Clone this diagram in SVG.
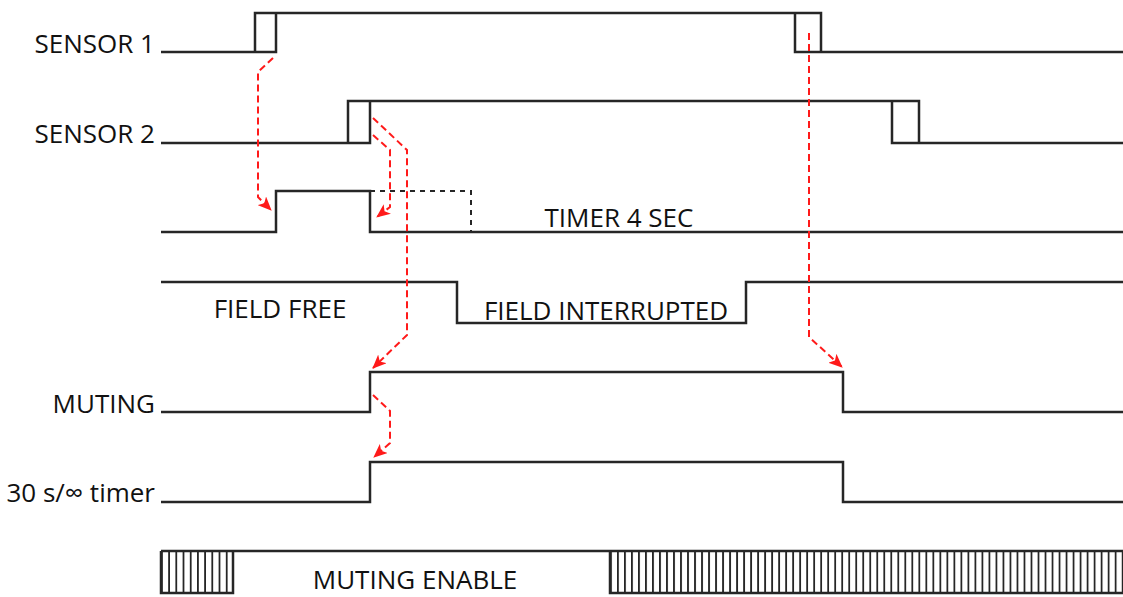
<svg xmlns="http://www.w3.org/2000/svg" width="1123" height="597" viewBox="0 0 1123 597">
<style>
.sig{fill:none;stroke:#262626;stroke-width:2.5;stroke-linejoin:miter}
.dash{fill:none;stroke:#262626;stroke-width:2;stroke-dasharray:5 5}
.red{fill:none;stroke:#ff1a1a;stroke-width:2;stroke-dasharray:7 4}
.lbl{font-family:"Open Sans","Noto Sans",sans-serif;font-size:26px;fill:#111}
.end{text-anchor:end}
.mid{text-anchor:middle}
</style>
<defs>
<marker id="ah" markerUnits="userSpaceOnUse" markerWidth="14" markerHeight="12" viewBox="0 0 14 12" refX="13" refY="6" orient="auto">
<path d="M0,0 L14,6 L0,12 L3.5,6 z" fill="#ff1a1a"/>
</marker>
<pattern id="hatchL" patternUnits="userSpaceOnUse" x="161" y="551" width="7.2" height="42">
<line x1="0.9" y1="0" x2="0.9" y2="42" stroke="#262626" stroke-width="1.8"/>
</pattern>
<pattern id="hatchR" patternUnits="userSpaceOnUse" x="610" y="551" width="7.01" height="42">
<line x1="0.9" y1="0" x2="0.9" y2="42" stroke="#262626" stroke-width="1.8"/>
</pattern>
</defs>

<g id="sensor1">
<text class="lbl end" x="155" y="53">SENSOR 1</text>
<path class="sig" d="M161,52 H276 V13 M255,52 V13 H821 V52 M795,13 V52 H1123"/>
</g>

<g id="sensor2">
<text class="lbl end" x="155" y="143">SENSOR 2</text>
<path class="sig" d="M161,143 H370 V101 M348,143 V101 H919 V143 M892,101 V143 H1123"/>
</g>

<g id="timer4">
<path class="sig" d="M161,232 H276 V191 H370 V232 H1123"/>
<path class="dash" d="M370,191 H471 V232"/>
<text class="lbl mid" x="619" y="227">TIMER 4 SEC</text>
</g>

<g id="field">
<path class="sig" d="M161,282 H457 V323 H746 V282 H1123"/>
<text class="lbl mid" x="280" y="318">FIELD FREE</text>
<text class="lbl mid" x="606" y="320">FIELD INTERRUPTED</text>
</g>

<g id="muting">
<text class="lbl end" x="155" y="413">MUTING</text>
<path class="sig" d="M161,412 H370 V372 H843 V412 H1123"/>
</g>

<g id="timer30">
<text class="lbl end" x="155" y="502">30 s/∞ timer</text>
<path class="sig" d="M161,502 H370 V462 H843 V502 H1123"/>
</g>

<g id="mutingEnable">
<rect x="161" y="551" width="72" height="42" fill="url(#hatchL)"/>
<rect x="610" y="551" width="513" height="42" fill="url(#hatchR)"/>
<path class="sig" d="M161,551 H1123 M161,551 V593 H233 V551 M610,551 V593 H1123"/>
<text class="lbl mid" x="415" y="589">MUTING ENABLE</text>
</g>

<g id="connectors">
<path class="red" d="M273,58 L258,72 L258,197 L271,210" marker-end="url(#ah)"/>
<path class="red" d="M373,118 L407,150 L407,335 L373,368" marker-end="url(#ah)"/>
<path class="red" d="M373,135 L390,150 L390,207 L377,217" marker-end="url(#ah)"/>
<path class="red" d="M373,395 L390,411 L390,443 L374,457" marker-end="url(#ah)"/>
<path class="red" d="M809,33 L809,337 L842,367" marker-end="url(#ah)"/>
</g>
</svg>
